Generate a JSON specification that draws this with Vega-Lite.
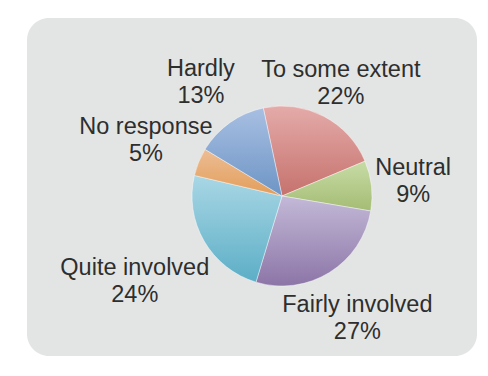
{
  "$schema": "https://vega.github.io/schema/vega-lite/v6.json",
  "width": 450,
  "height": 338,
  "autosize": {"type": "none"},
  "padding": {"left": 27, "top": 18, "right": 11, "bottom": 20},
  "background": "#ffffff",
  "view": {"fill": "#e3e5e4", "stroke": null, "cornerRadius": 22},
  "data": {
    "values": [
      {"cat": "To some extent", "pct": 22},
      {"cat": "Neutral", "pct": 9},
      {"cat": "Fairly involved", "pct": 27},
      {"cat": "Quite involved", "pct": 24},
      {"cat": "No response", "pct": 5},
      {"cat": "Hardly", "pct": 13}
    ]
  },
  "transform": [{"calculate": "datum.cat + '\\n' + datum.pct + '%'", "as": "label"}],
  "encoding": {
    "theta": {"field": "pct", "type": "quantitative", "stack": true, "scale": {"range": [-0.2094, 6.0738]}}
  },
  "layer": [
    {
      "mark": {"type": "arc", "outerRadius": 90, "xOffset": 30, "yOffset": 9, "stroke": "#ffffff", "strokeWidth": 0.7, "strokeOpacity": 0.6},
      "encoding": {
        "fill": {
          "condition": [
            {"test": "datum.cat === 'To some extent'", "value": {"gradient": "linear", "x1": 0, "y1": 0, "x2": 0, "y2": 1, "stops": [{"offset": 0, "color": "#e4aba9"}, {"offset": 1, "color": "#c6726d"}]}},
            {"test": "datum.cat === 'Neutral'", "value": {"gradient": "linear", "x1": 0, "y1": 0, "x2": 0, "y2": 1, "stops": [{"offset": 0, "color": "#c7dca6"}, {"offset": 1, "color": "#a4bc74"}]}},
            {"test": "datum.cat === 'Fairly involved'", "value": {"gradient": "linear", "x1": 0, "y1": 0, "x2": 0, "y2": 1, "stops": [{"offset": 0, "color": "#c3b9d7"}, {"offset": 1, "color": "#8c75a7"}]}},
            {"test": "datum.cat === 'Quite involved'", "value": {"gradient": "linear", "x1": 0, "y1": 0, "x2": 0, "y2": 1, "stops": [{"offset": 0, "color": "#a9d7e5"}, {"offset": 1, "color": "#5caec6"}]}},
            {"test": "datum.cat === 'No response'", "value": {"gradient": "linear", "x1": 0, "y1": 0, "x2": 0, "y2": 1, "stops": [{"offset": 0, "color": "#ecbd94"}, {"offset": 1, "color": "#e39d5a"}]}}
          ],
          "value": {"gradient": "linear", "x1": 0, "y1": 0, "x2": 0, "y2": 1, "stops": [{"offset": 0, "color": "#a8bfe2"}, {"offset": 1, "color": "#6d95c5"}]}
        }
      }
    },
    {"mark": {"type": "text", "radius": 127, "xOffset": 30, "yOffset": -4, "font": "Liberation Sans", "fontSize": 23.5, "lineHeight": 27, "lineBreak": "\n", "color": "#2e2e2e", "align": "center", "baseline": "middle", "text": {"expr": "datum.cat === 'To some extent' ? datum.label : ''"}}},
    {"mark": {"type": "text", "radius": 132, "xOffset": 30, "yOffset": -4, "font": "Liberation Sans", "fontSize": 23.5, "lineHeight": 27, "lineBreak": "\n", "color": "#2e2e2e", "align": "center", "baseline": "middle", "text": {"expr": "datum.cat === 'Neutral' ? datum.label : ''"}}},
    {"mark": {"type": "text", "radius": 143, "xOffset": 30, "yOffset": -4, "font": "Liberation Sans", "fontSize": 23.5, "lineHeight": 27, "lineBreak": "\n", "color": "#2e2e2e", "align": "center", "baseline": "middle", "text": {"expr": "datum.cat === 'Fairly involved' ? datum.label : ''"}}},
    {"mark": {"type": "text", "radius": 170, "xOffset": 30, "yOffset": -4, "font": "Liberation Sans", "fontSize": 23.5, "lineHeight": 27, "lineBreak": "\n", "color": "#2e2e2e", "align": "center", "baseline": "middle", "text": {"expr": "datum.cat === 'Quite involved' ? datum.label : ''"}}},
    {"mark": {"type": "text", "radius": 147, "xOffset": 30, "yOffset": -4, "font": "Liberation Sans", "fontSize": 23.5, "lineHeight": 27, "lineBreak": "\n", "color": "#2e2e2e", "align": "center", "baseline": "middle", "text": {"expr": "datum.cat === 'No response' ? datum.label : ''"}}},
    {"mark": {"type": "text", "radius": 140, "xOffset": 30, "yOffset": -4, "font": "Liberation Sans", "fontSize": 23.5, "lineHeight": 27, "lineBreak": "\n", "color": "#2e2e2e", "align": "center", "baseline": "middle", "text": {"expr": "datum.cat === 'Hardly' ? datum.label : ''"}}}
  ]
}
